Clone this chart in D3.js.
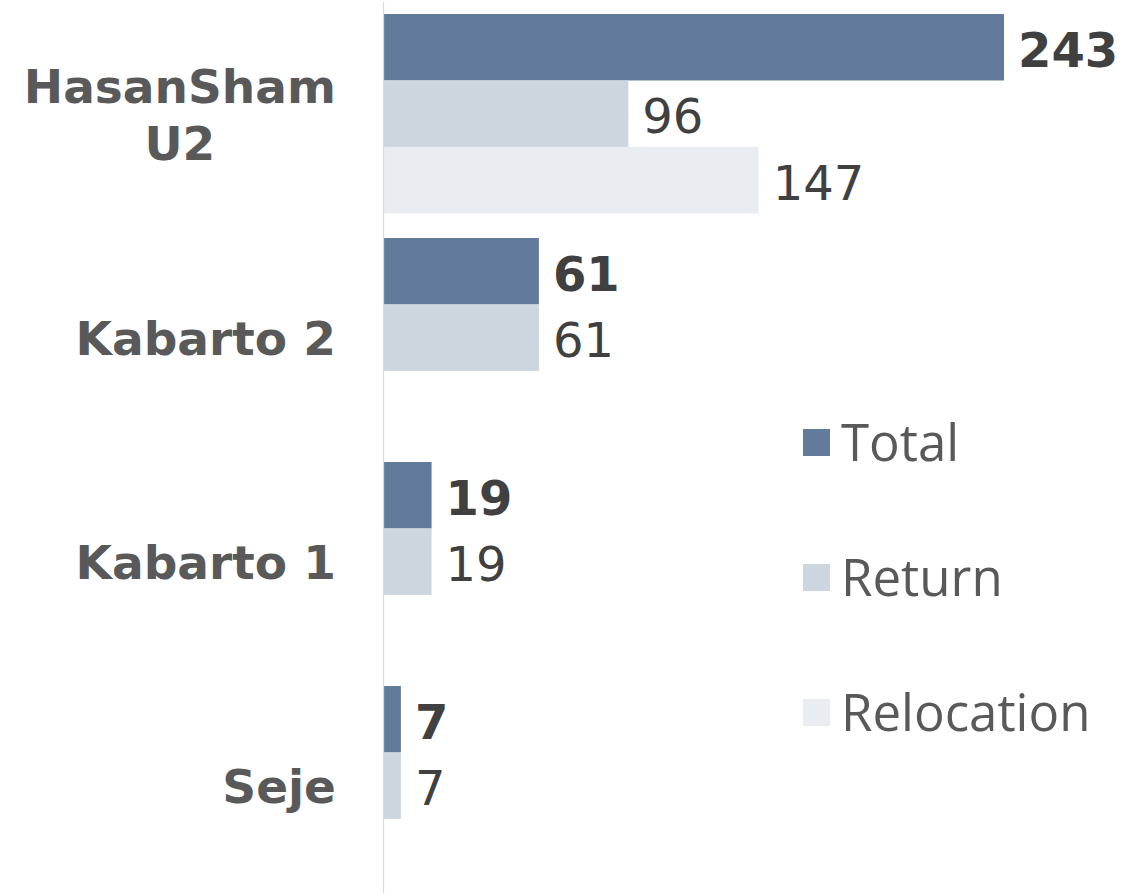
<!DOCTYPE html>
<html>
<head>
<meta charset="utf-8">
<script src="https://cdn.jsdelivr.net/npm/d3@7"></script>
<style>
  html, body { margin: 0; padding: 0; background: #fff; }
  svg { display: block; }
</style>
</head>
<body>
<svg id="chart" width="1143" height="893"></svg>
<script>
const categories = [["HasanSham", "U2"], ["Kabarto 2"], ["Kabarto 1"], ["Seje"]];
const categoryKeys = ["HasanSham U2", "Kabarto 2", "Kabarto 1", "Seje"];
const seriesNames = ["Total", "Return", "Relocation"];
const totalValues = [243, 61, 19, 7];
const returnValues = [96, 61, 19, 7];
const relocationValues = [147, 0, 0, 0];
const seriesColors = ["#637b9b", "#cdd5df", "#e9edf2"];

const seriesValues = [totalValues, returnValues, relocationValues];

const svg = d3.select("#chart");
const W = 1143, H = 893;

const x = d3.scaleLinear().domain([0, 243]).range([383, 1004]);
const y0 = d3.scaleBand().domain(categoryKeys).range([1.7, 897.7])
  .paddingInner(0.11).paddingOuter(0.055);
const y1 = d3.scaleBand().domain(seriesNames).range([0, y0.bandwidth()]).padding(0);

// bars
const groups = svg.append("g").selectAll("g")
  .data(categoryKeys)
  .join("g")
  .attr("transform", d => `translate(0,${y0(d)})`);

groups.each(function(cat, ci) {
  const g = d3.select(this);
  seriesNames.forEach((s, si) => {
    const v = seriesValues[si][ci];
    if (!v) return;
    g.append("rect")
      .attr("x", x(0))
      .attr("y", y1(s))
      .attr("width", x(v) - x(0))
      .attr("height", y1.bandwidth())
      .attr("fill", seriesColors[si]);
    g.append("text")
      .attr("x", x(v) + 14)
      .attr("y", y1(s) + y1.bandwidth() / 2 + 19.5)
      .attr("font-family", "DejaVu Sans, Verdana, sans-serif")
      .attr("font-size", 48)
      .attr("font-weight", si === 0 ? "bold" : "normal")
      .attr("fill", "#404040")
      .text(v);
  });
});

// axis line
svg.append("line")
  .attr("x1", 383.5).attr("x2", 383.5)
  .attr("y1", 2).attr("y2", H)
  .attr("stroke", "#d9d9d9").attr("stroke-width", 1.3);

// category labels
const labelRight = 336;
categoryKeys.forEach((k, i) => {
  const lines = categories[i];
  const cy = y0(k) + y0.bandwidth() / 2;
  const lineH = 57;
  const g = svg.append("g");
  const texts = lines.map((ln, li) => g.append("text")
    .attr("font-family", "DejaVu Sans, Verdana, sans-serif")
    .attr("font-size", 47)
    .attr("font-weight", "bold")
    .attr("fill", "#595959")
    .attr("text-anchor", "middle")
    .attr("y", cy + 17.5 + (li - (lines.length - 1) / 2) * lineH)
    .text(ln));
  const maxW = d3.max(texts, t => t.node().getComputedTextLength());
  texts.forEach(t => t.attr("x", labelRight - maxW / 2));
});

// legend
const legend = svg.append("g");
seriesNames.forEach((s, i) => {
  const ly = 442.5 + i * 135;
  legend.append("rect")
    .attr("x", 803).attr("y", ly - 13.5)
    .attr("width", 27).attr("height", 27)
    .attr("fill", seriesColors[i]);
  legend.append("text")
    .attr("x", 841).attr("y", ly + 18)
    .attr("font-family", "Open Sans, Noto Sans, sans-serif")
    .attr("font-size", 51)
    .attr("fill", "#595959")
    .text(s);
});
</script>
</body>
</html>
